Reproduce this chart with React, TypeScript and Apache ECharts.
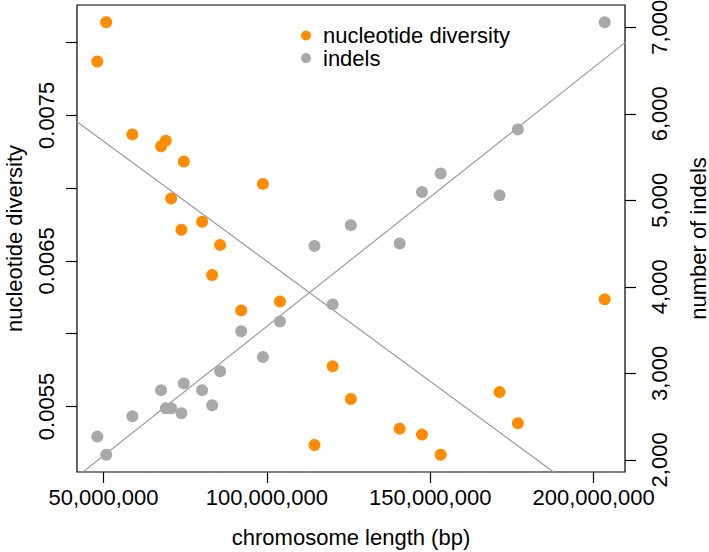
import React, { useEffect, useRef } from "react";
import * as echarts from "echarts";

// chromosome length (bp)
const chromosomeLength = [
  48100000, 50830000, 58830000, 67620000, 69060000, 70690000, 73840000, 74580000,
  80190000, 83250000, 85700000, 92140000, 98790000, 104000000, 114570000, 120120000,
  125700000, 140650000, 147460000, 153190000, 171210000, 176820000, 203390000,
];
// nucleotide diversity per chromosome
const nucleotideDiversity = [
  0.00787, 0.008139, 0.007369, 0.007288, 0.007326, 0.006928, 0.006714, 0.007183,
  0.006769, 0.006403, 0.00661, 0.00616, 0.007029, 0.006222, 0.005236, 0.005776,
  0.005552, 0.005348, 0.005307, 0.005169, 0.005599, 0.005385, 0.006236,
];
// number of indels per chromosome
const indels = [
  2269, 2060, 2505, 2806, 2597, 2597, 2539, 2884, 2806, 2632, 3023, 3487, 3189, 3600,
  4473, 3797, 4713, 4500, 5096, 5309, 5057, 5819, 7057,
];

const xTicks = [50000000, 100000000, 150000000, 200000000];
const diversityTicks = [0.0055, 0.006, 0.0065, 0.007, 0.0075, 0.008];
const diversityLabels = [0.0055, 0.0065, 0.0075];
const indelTicks = [2000, 3000, 4000, 5000, 6000, 7000];

const ORANGE = "#FF8C00";
const GRAY = "#A9A9A9";
const LINE = "#9a9a9a";
const FONT = "'Liberation Sans', Arial, Helvetica, sans-serif";
const FS = 22;

function padRange(v: number[]): [number, number] {
  const lo = Math.min(...v);
  const hi = Math.max(...v);
  const d = (hi - lo) * 0.04;
  return [lo - d, hi + d];
}

function fit(xs: number[], ys: number[]) {
  const n = xs.length;
  const mx = xs.reduce((a, b) => a + b, 0) / n;
  const my = ys.reduce((a, b) => a + b, 0) / n;
  let sxy = 0;
  let sxx = 0;
  for (let i = 0; i < n; i++) {
    sxy += (xs[i] - mx) * (ys[i] - my);
    sxx += (xs[i] - mx) * (xs[i] - mx);
  }
  const b = sxy / sxx;
  return { a: my - b * mx, b };
}

const fmtComma = (v: number) => Math.round(v).toLocaleString("en-US");

export default function App() {
  const ref = useRef<HTMLDivElement>(null);
  useEffect(() => {
    if (!ref.current) return;
    const chart = echarts.init(ref.current, undefined, { renderer: "svg" });
    const [xMin, xMax] = padRange(chromosomeLength);
    const [dMin, dMax] = padRange(nucleotideDiversity);
    const [iMin, iMax] = padRange(indels);
    const fd = fit(chromosomeLength, nucleotideDiversity);
    const fi = fit(chromosomeLength, indels);
    const divPts = chromosomeLength.map((x, i) => [x, nucleotideDiversity[i]]);
    const indPts = chromosomeLength.map((x, i) => [x, indels[i]]);

    chart.setOption({
      animation: false,
      textStyle: { fontFamily: FONT },
      grid: {
        left: 77,
        right: 84,
        top: 5,
        bottom: 80,
        containLabel: false,
        outerBoundsMode: "none",
        show: true,
        borderColor: "#000",
        borderWidth: 1.2,
        backgroundColor: "transparent",
      },
      legend: {
        orient: "vertical",
        left: 301,
        top: 24.5,
        padding: 0,
        itemWidth: 10,
        itemHeight: 10,
        itemGap: 0.6,
        icon: "circle",
        data: ["nucleotide diversity", "indels"],
        textStyle: {
          fontSize: FS,
          color: "#000",
          fontFamily: FONT,
          lineHeight: 22,
          padding: [0, 0, 0, 7],
        },
      },
      xAxis: {
        type: "value",
        min: xMin,
        max: xMax,
        splitLine: { show: false },
        axisLine: { show: false },
        axisTick: {
          show: true,
          length: 11,
          customValues: xTicks,
          lineStyle: { color: "#000", width: 1.2 },
        },
        axisLabel: {
          customValues: xTicks,
          formatter: (v: number) => fmtComma(v),
          fontSize: FS,
          color: "#000",
          margin: 14,
          fontFamily: FONT,
        },
        name: "chromosome length (bp)",
        nameLocation: "middle",
        nameGap: 54,
        nameTextStyle: { fontSize: FS, color: "#000", fontFamily: FONT },
      },
      yAxis: [
        {
          type: "value",
          position: "left",
          min: dMin,
          max: dMax,
          splitLine: { show: false },
          axisLine: { show: false },
          axisTick: {
            show: true,
            length: 11,
            customValues: diversityTicks,
            lineStyle: { color: "#000", width: 1.2 },
          },
          axisLabel: {
            customValues: diversityLabels,
            rotate: 90,
            formatter: (v: number) => v.toFixed(4),
            fontSize: FS,
            color: "#000",
            margin: 20,
            fontFamily: FONT,
          },
          name: "nucleotide diversity",
          nameLocation: "middle",
          nameRotate: 90,
          nameGap: 52,
          nameTextStyle: { fontSize: FS, color: "#000", fontFamily: FONT },
        },
        {
          type: "value",
          position: "right",
          min: iMin,
          max: iMax,
          splitLine: { show: false },
          axisLine: { show: false },
          axisTick: {
            show: true,
            length: 11,
            customValues: indelTicks,
            lineStyle: { color: "#000", width: 1.2 },
          },
          axisLabel: {
            customValues: indelTicks,
            rotate: 90,
            formatter: (v: number) => fmtComma(v),
            fontSize: FS,
            color: "#000",
            margin: 23,
            fontFamily: FONT,
          },
          name: "number of indels",
          nameLocation: "middle",
          nameRotate: 90,
          nameGap: 62,
          nameTextStyle: { fontSize: FS, color: "#000", fontFamily: FONT },
        },
      ],
      series: [
        {
          name: "diversity fit",
          type: "line",
          yAxisIndex: 0,
          data: [
            [xMin, fd.a + fd.b * xMin],
            [xMax, fd.a + fd.b * xMax],
          ],
          showSymbol: false,
          symbol: "none",
          clip: true,
          silent: true,
          lineStyle: { color: LINE, width: 1.2 },
          z: 1,
        },
        {
          name: "indels fit",
          type: "line",
          yAxisIndex: 1,
          data: [
            [xMin, fi.a + fi.b * xMin],
            [xMax, fi.a + fi.b * xMax],
          ],
          showSymbol: false,
          symbol: "none",
          clip: true,
          silent: true,
          lineStyle: { color: LINE, width: 1.2 },
          z: 1,
        },
        {
          name: "nucleotide diversity",
          type: "scatter",
          yAxisIndex: 0,
          data: divPts,
          symbol: "circle",
          symbolSize: 12,
          itemStyle: { color: ORANGE, opacity: 1 },
          z: 2,
        },
        {
          name: "indels",
          type: "scatter",
          yAxisIndex: 1,
          data: indPts,
          symbol: "circle",
          symbolSize: 12,
          itemStyle: { color: GRAY, opacity: 1 },
          z: 2,
        },
      ],
    });
    return () => chart.dispose();
  }, []);

  return (
    <div
      ref={ref}
      style={{ position: "absolute", left: 0, top: 0, width: 709, height: 552, background: "#fff" }}
    />
  );
}
